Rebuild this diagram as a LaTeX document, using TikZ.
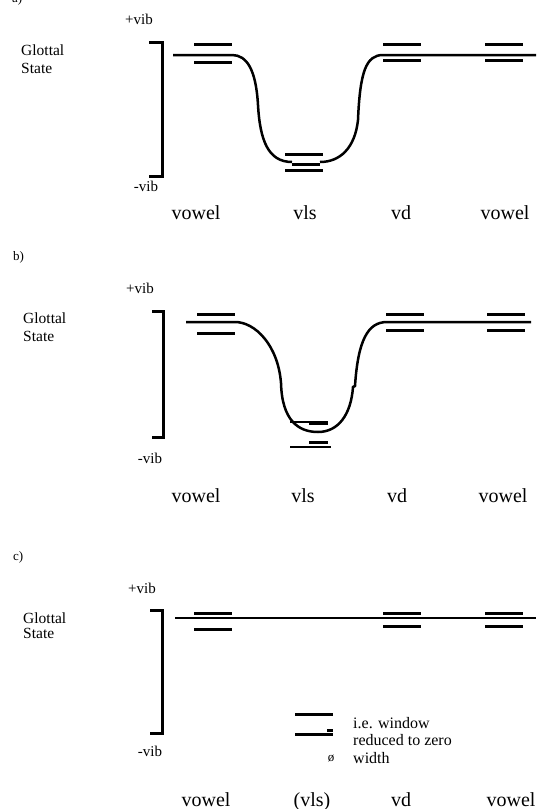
\documentclass[tikz,border=0pt]{standalone}
\usepackage{fontspec}
\setmainfont{Liberation Serif}
\begin{document}
\begin{tikzpicture}[x=1pt,y=-1pt,
  bar/.style={line width=3pt},
  thinbar/.style={line width=2.2pt},
  curve/.style={line width=2.5pt},
  brk/.style={line width=3pt},
  lab/.style={font=\fontsize{20}{22}\selectfont, anchor=base, inner sep=0pt},
  vib/.style={font=\fontsize{15}{17}\selectfont, anchor=base, inner sep=0pt},
  gs/.style={font=\fontsize{15.5}{17}\selectfont, anchor=base west, inner sep=0pt},
  pan/.style={font=\fontsize{13}{15}\selectfont, anchor=base west, inner sep=0pt},
  leg/.style={font=\fontsize{16}{18}\selectfont, anchor=base west, inner sep=0pt}]
\useasboundingbox (0,0) rectangle (537,809);

% ---------------- panel a ----------------
\node[pan] (pa) at (12,2) {a)};
\node[vib] (pa+) at (139,24) {+vib};
\node[gs] (pag1) at (21,55) {Glottal};
\node[gs] (pag2) at (21,73) {State};
\node[vib] (pa-) at (146,191) {-vib};
\draw[brk] (149,42.7) -- (162,42.7) -- (162,176.7) -- (149,176.7);
\node[lab] (pal1) at (196,219) {vowel};
\node[lab] (pal2) at (305,219) {vls};
\node[lab] (pal3) at (401,219) {vd};
\node[lab] (pal4) at (505,219) {vowel};
% bars
\draw[bar] (194,44) -- (232,44);
\draw[bar] (194,62.5) -- (232,62.5);
\draw[bar] (285,154.3) -- (323,154.3);
\draw[bar] (285,170.7) -- (323,170.7);
\draw[bar] (383,44) -- (421,44);
\draw[bar] (383,60.3) -- (421,60.3);
\draw[bar] (485,44) -- (523,44);
\draw[bar] (485,60.3) -- (523,60.3);
% curve
\draw[curve] (173,55) -- (232,55) .. controls (247,55) and (256,70) .. (258,105)
  .. controls (260,140) and (268,162) .. (292,162);
\draw[bar] (292,164) -- (320,164);
\draw[curve] (320,162) .. controls (340,162) and (355,148) .. (358,120)
  .. controls (360,72) and (366,55) .. (383,55) -- (536,55);

% ---------------- panel b ----------------
\node[pan] (pb) at (13,260) {b)};
\node[vib] (pb+) at (140,293) {+vib};
\node[gs] (pbg1) at (23,323) {Glottal};
\node[gs] (pbg2) at (23,341) {State};
\node[vib] (pb-) at (150,463) {-vib};
\draw[brk] (152,311) -- (163,311) -- (163,437) -- (152,437);
\node[lab] (pbl1) at (196,502) {vowel};
\node[lab] (pbl2) at (303,502) {vls};
\node[lab] (pbl3) at (397,502) {vd};
\node[lab] (pbl4) at (503,502) {vowel};
% bars
\draw[bar] (197,314) -- (235,314);
\draw[bar] (197,333.3) -- (235,333.3);
\draw[thinbar] (290,421.7) -- (328,421.7);
\draw[bar] (309,423) -- (328,423);
\draw[bar] (309,442) -- (328,442);
\draw[thinbar] (290,447) -- (331,447);
\draw[bar] (386,314) -- (424,314);
\draw[bar] (386,330) -- (424,330);
\draw[bar] (487,314) -- (525,314);
\draw[bar] (487,330) -- (525,330);
% curve
\draw[curve] (186,322) -- (235,322) .. controls (255,322) and (278,345) .. (281,383)
  .. controls (282,420) and (298,432) .. (318,432)
  .. controls (338,432) and (351,415) .. (353,387) -- (355,386)
  .. controls (358,340) and (368,322) .. (387,322) -- (531,322);

% ---------------- panel c ----------------
\node[pan] (pc) at (13,560) {c)};
\node[vib] (pc+) at (142,593) {+vib};
\node[gs] (pcg1) at (23,623) {Glottal};
\node[gs] (pcg2) at (23,638) {State};
\node[vib] (pc-) at (150,756) {-vib};
\draw[brk] (150,610) -- (162,610) -- (162,733) -- (150,733);
\node[lab] (pcl1) at (206,806) {vowel};
\node[lab] (pcl2) at (312,806) {(vls)};
\node[lab] (pcl3) at (401,806) {vd};
\node[lab] (pcl4) at (511,806) {vowel};
% bars
\draw[bar] (194,613.3) -- (232,613.3);
\draw[bar] (194,629.3) -- (232,629.3);
\draw[bar] (383,613.3) -- (421,613.3);
\draw[bar] (383,626) -- (421,626);
\draw[bar] (485,613.3) -- (523,613.3);
\draw[bar] (485,626) -- (523,626);
\draw[curve] (175,618) -- (536,618);
% legend
\draw[bar] (295,714) -- (333,714);
\draw[bar] (295,734.5) -- (333,734.5);
\draw[bar] (327,730) -- (333,730);
\node[leg] (lg1) at (353,728) {i.e. window};
\node[leg] (lg2) at (353,745) {reduced to zero};
\node[leg] (lg3) at (353,763) {width};
\node[font=\fontsize{13}{15}\selectfont, anchor=base, inner sep=0pt] (lgo) at (331,761) {ø};
\end{tikzpicture}
\end{document}
